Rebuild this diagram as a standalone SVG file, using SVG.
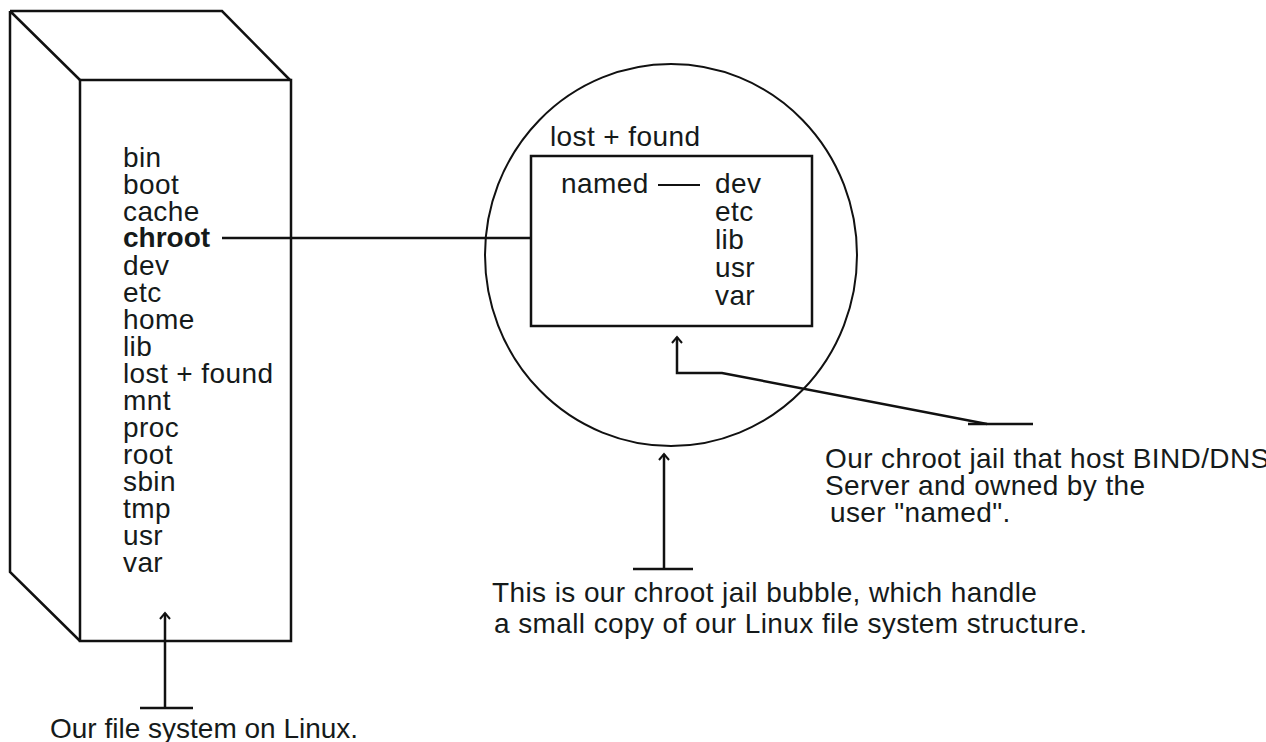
<svg xmlns="http://www.w3.org/2000/svg" width="1266" height="742" viewBox="0 0 1266 742">
  <style>
    .ln { fill: none; stroke: #111; stroke-width: 2.5; stroke-linejoin: miter; }
    .thin { fill: none; stroke: #111; stroke-width: 2; }
    .t { font-family: "Liberation Sans", Arial, sans-serif; font-size: 28px; letter-spacing: 0.4px; fill: #151a1a; }
    .b { font-weight: bold; letter-spacing: 0; }
    .n { letter-spacing: 0; }
  </style>
  <defs>
    <marker id="arr" markerUnits="userSpaceOnUse" markerWidth="14" markerHeight="14" viewBox="-8 -7 10 14" refX="0" refY="0" orient="auto">
      <path d="M -6 -5 L 0 0 L -6 5" fill="none" stroke="#111" stroke-width="2"/>
    </marker>
  </defs>
  <rect width="1266" height="742" fill="#ffffff"/>

  <g id="filesystem">
    <path class="ln" d="M10 11 L222 11 L290 80 M10 11 L80 80 M10 11 L10 572 L80 641"/>
    <rect class="ln" x="80" y="80" width="211" height="561"/>
    <g class="t">
      <text x="123" y="167">bin</text>
      <text x="123" y="194">boot</text>
      <text x="123" y="221">cache</text>
      <text x="123" y="247" class="b">chroot</text>
      <text x="123" y="275">dev</text>
      <text x="123" y="302">etc</text>
      <text x="123" y="329">home</text>
      <text x="123" y="356">lib</text>
      <text x="123" y="383">lost + found</text>
      <text x="123" y="410">mnt</text>
      <text x="123" y="437">proc</text>
      <text x="123" y="464">root</text>
      <text x="123" y="491">sbin</text>
      <text x="123" y="518">tmp</text>
      <text x="123" y="545">usr</text>
      <text x="123" y="572">var</text>
    </g>
  </g>

  <g id="bubble">
    <ellipse class="thin" cx="671" cy="255" rx="186" ry="191"/>
    <text class="t" x="550" y="146">lost + found</text>
  </g>

  <g id="jail">
    <rect class="ln" x="531" y="156" width="281" height="170"/>
    <g class="t">
      <text x="561" y="193">named</text>
      <text x="715" y="193">dev</text>
      <text x="715" y="221">etc</text>
      <text x="715" y="249">lib</text>
      <text x="715" y="277">usr</text>
      <text x="715" y="305">var</text>
    </g>
    <line class="thin" x1="658" y1="185" x2="700" y2="185"/>
  </g>

  <g id="label-fs">
    <text class="t n" x="50" y="738">Our file system on Linux.</text>
  </g>
  <g id="label-bubble">
    <text class="t" x="492" y="602">This is our chroot jail bubble, which handle</text>
    <text class="t" x="494" y="633">a small copy of our Linux file system structure.</text>
  </g>
  <g id="label-jail">
    <text class="t" x="825" y="468">Our chroot jail that host BIND/DNS</text>
    <text class="t" x="825" y="495">Server and owned by the</text>
    <text class="t" x="830" y="522">user "named".</text>
  </g>

  <g id="connectors">
    <line class="ln" x1="222" y1="238" x2="531" y2="238"/>
    <path class="ln" d="M165 708 L165 613" marker-end="url(#arr)"/>
    <line class="ln" x1="140" y1="708" x2="193" y2="708"/>
    <path class="ln" d="M664 569 L664 454" marker-end="url(#arr)"/>
    <line class="ln" x1="633" y1="569" x2="693" y2="569"/>
    <path class="ln" d="M987 424 L722 373 L677 373 L677 337" marker-end="url(#arr)"/>
    <line class="ln" x1="968" y1="424" x2="1033" y2="424"/>
  </g>
</svg>
